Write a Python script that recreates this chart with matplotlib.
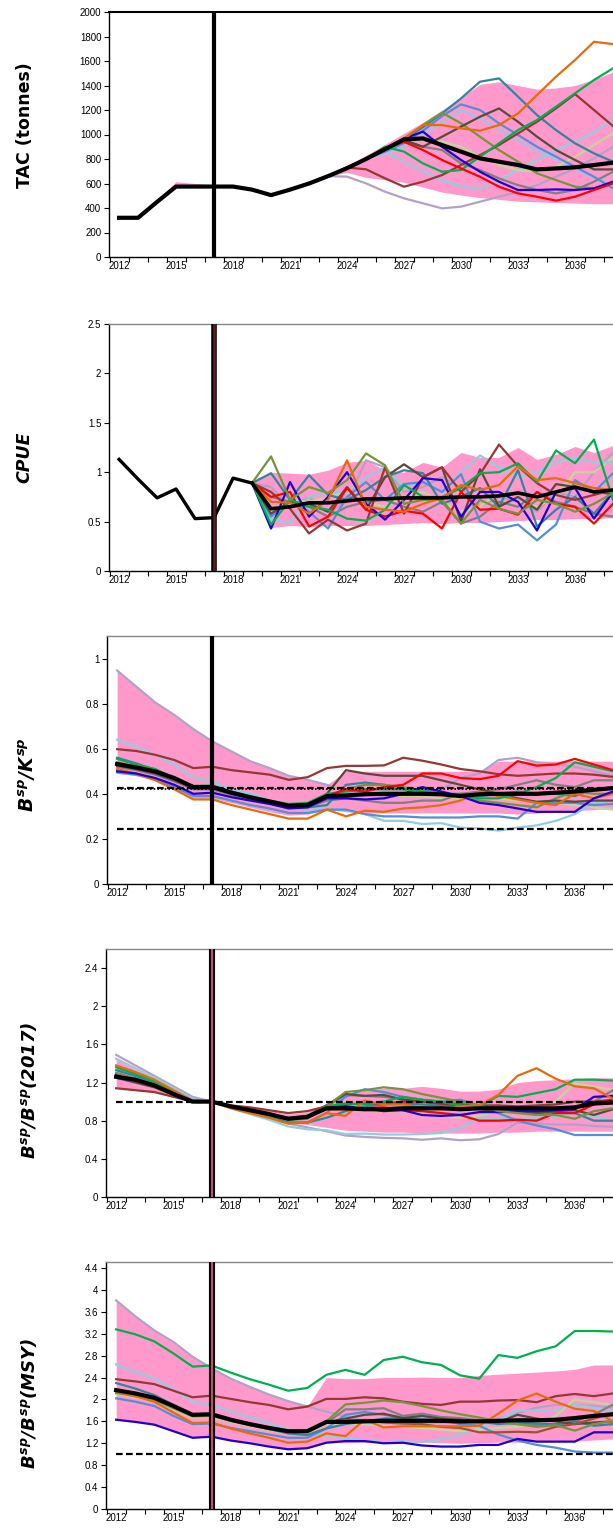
import matplotlib
matplotlib.use('Agg')
import matplotlib.pyplot as plt
import numpy as np

plt.rcParams['font.family'] = ['Liberation Sans', 'DejaVu Sans']
plt.rcParams['mathtext.fontset'] = 'custom'
plt.rcParams['mathtext.rm'] = 'DejaVu Sans:italic:bold'
plt.rcParams['mathtext.it'] = 'DejaVu Sans:italic:bold'
plt.rcParams['mathtext.bf'] = 'DejaVu Sans:italic:bold'

# ---------------- data ----------------
years_all = list(range(2012, 2039))
years_tac_proj = list(range(2023, 2039))
years_cpue_hist = list(range(2012, 2020))
years_cpue_proj = list(range(2019, 2039))
tick_years = [2012, 2015, 2018, 2021, 2024, 2027, 2030, 2033, 2036]

# colours of scenario lines
c_red = '#FF0000'; c_blue = '#2000CC'; c_green = '#00B050'; c_orange = '#E46C0A'
c_teal = '#31859C'; c_sky = '#93CDDD'; c_corn = '#558ED5'; c_maroon = '#953735'
c_dbrown = '#5A4A3A'; c_olive = '#77933C'; c_khaki = '#C3D69B'; c_lav = '#B3A2C7'
c_gray = '#808080'; c_lblue = '#9DC3E6'; c_band = '#FF99CC'

# TAC (tonnes)
tac_black = [320, 320, 450, 575, 575, 575, 575, 550, 505, 550, 600, 660, 725, 800, 880, 960,
             968, 914, 860, 805, 778, 751, 715, 723, 732, 751, 770]
tac_band_lo = [320, 320, 450, 575, 575, 575, 575, 550, 505, 550, 600, 660, 690, 650, 630, 610,
               570, 530, 505, 485, 470, 455, 450, 445, 440, 435, 435]
tac_band_hi = [340, 340, 470, 615, 600, 590, 580, 550, 505, 550, 600, 660, 740, 830, 920, 1010,
               1100, 1200, 1300, 1410, 1430, 1400, 1370, 1380, 1400, 1450, 1510]
tac_orange = [660, 730, 800, 880, 965, 1077, 1077, 1050, 1031, 1077, 1172, 1322, 1472, 1608, 1757, 1738]
tac_teal = [660, 730, 800, 880, 960, 1060, 1172, 1295, 1431, 1458, 1309, 1159, 1036, 928, 846, 778]
tac_corn = [660, 730, 800, 860, 930, 1030, 1150, 1246, 1200, 1091, 996, 900, 819, 737, 655, 560]
tac_lblue = [660, 730, 800, 850, 900, 1000, 1100, 1200, 1130, 1040, 950, 870, 800, 720, 650, 590]
tac_sky = [660, 720, 800, 860, 780, 700, 628, 574, 560, 628, 710, 792, 873, 941, 1023, 1118]
tac_dbrown = [660, 730, 800, 880, 955, 900, 982, 1064, 1145, 1213, 1104, 982, 873, 792, 715, 715]
tac_maroon = [660, 730, 716, 642, 574, 615, 669, 751, 832, 914, 1009, 1104, 1213, 1330, 1200, 1069]
tac_green = [660, 730, 800, 900, 860, 764, 696, 710, 819, 928, 1036, 1118, 1227, 1336, 1445, 1540]
tac_olive = [660, 730, 800, 880, 968, 1077, 1178, 1091, 982, 873, 778, 683, 628, 574, 560, 601]
tac_blue = [660, 730, 800, 880, 968, 1023, 900, 792, 696, 615, 547, 547, 552, 547, 560, 615]
tac_red = [660, 730, 800, 880, 941, 873, 792, 723, 655, 574, 519, 492, 460, 492, 547, 601]
tac_lav = [660, 656, 601, 533, 479, 438, 397, 411, 451, 492, 533, 587, 656, 723, 805, 900]
tac_khaki = [660, 730, 800, 880, 955, 955, 941, 900, 819, 751, 710, 696, 737, 819, 914, 1009]
tac_gray = [660, 730, 800, 880, 940, 900, 873, 764, 710, 642, 587, 547, 519, 547, 615, 696]

# CPUE
cpue_hist = [1.13, 0.93, 0.74, 0.83, 0.53, 0.54, 0.94, 0.89]
cpue_black = [0.89, 0.63, 0.65, 0.69, 0.69, 0.71, 0.73, 0.73, 0.74, 0.74, 0.74, 0.75, 0.75,
              0.76, 0.79, 0.75, 0.80, 0.85, 0.80, 0.82]
cpue_band_lo = [0.89, 0.44, 0.46, 0.45, 0.46, 0.46, 0.46, 0.47, 0.48, 0.49, 0.48, 0.49, 0.49,
                0.50, 0.51, 0.52, 0.52, 0.53, 0.53, 0.54]
cpue_band_hi = [0.89, 1.00, 0.99, 0.98, 1.02, 1.10, 1.12, 1.02, 1.00, 1.10, 1.05, 1.20, 1.15,
                1.15, 1.25, 1.13, 1.18, 1.26, 1.20, 1.27]
cpue_green = [0.89, 0.47, 0.72, 0.65, 0.62, 0.53, 0.51, 0.62, 0.87, 0.75, 0.75, 0.84, 0.99, 1.00,
              1.09, 0.90, 1.22, 1.09, 1.33, 0.72]
cpue_olive = [0.89, 1.16, 0.72, 0.85, 0.79, 0.92, 1.19, 1.07, 0.68, 0.72, 0.72, 0.48, 0.72, 0.63,
              0.58, 0.72, 0.68, 0.60, 0.68, 0.79]
cpue_blue = [0.89, 0.43, 0.90, 0.55, 0.75, 1.00, 0.68, 0.52, 0.72, 0.94, 0.92, 0.55, 0.80, 0.80,
             0.70, 0.41, 0.80, 0.84, 0.53, 0.80]
cpue_red = [0.89, 0.75, 0.80, 0.45, 0.55, 0.84, 0.62, 0.55, 0.61, 0.58, 0.43, 0.80, 0.62, 0.63,
            0.57, 0.80, 0.68, 0.65, 0.48, 0.68]
cpue_maroon = [0.89, 0.80, 0.63, 0.38, 0.52, 0.41, 0.48, 1.05, 0.58, 0.95, 1.05, 0.80, 0.98, 1.28,
               1.06, 0.89, 0.77, 0.72, 0.77, 0.82]
cpue_orange = [0.89, 0.70, 0.69, 0.58, 0.72, 1.12, 0.65, 0.62, 0.60, 0.68, 0.74, 0.87, 0.82, 0.87,
               1.06, 0.92, 0.94, 0.89, 0.84, 0.82]
cpue_teal = [0.89, 0.99, 0.72, 0.97, 0.77, 0.72, 0.82, 0.95, 1.02, 0.99, 0.68, 0.75, 0.84, 0.65,
             1.02, 0.45, 0.62, 0.75, 0.58, 0.80]
cpue_corn = [0.89, 0.55, 0.72, 0.60, 0.43, 0.75, 0.90, 0.72, 0.88, 0.90, 0.80, 0.98, 0.50, 0.43,
             0.47, 0.31, 0.47, 0.92, 0.80, 0.99]
cpue_sky = [0.89, 0.52, 0.49, 0.75, 0.80, 0.80, 0.95, 1.05, 0.85, 0.90, 0.80, 1.00, 1.17, 1.05,
            0.95, 1.00, 1.10, 1.15, 1.10, 1.10]
cpue_lav = [0.89, 0.85, 0.65, 0.75, 0.60, 0.70, 1.12, 1.05, 0.80, 0.85, 0.95, 0.85, 0.65, 0.75,
            0.70, 0.60, 0.80, 0.75, 1.00, 1.20]
cpue_khaki = [0.89, 0.60, 0.72, 0.70, 0.75, 0.80, 0.70, 0.65, 0.75, 0.80, 0.70, 0.60, 0.65, 0.80,
              0.70, 0.65, 0.75, 1.00, 1.00, 1.15]
cpue_dbrown = [0.89, 0.58, 0.70, 0.68, 0.60, 0.85, 0.62, 0.95, 1.08, 0.95, 1.05, 0.50, 1.03, 0.65,
               0.75, 0.62, 0.88, 0.85, 0.80, 0.78]
cpue_gray = [0.89, 0.75, 0.70, 0.65, 0.55, 0.65, 0.70, 0.72, 0.65, 0.60, 0.70, 0.48, 0.55, 0.70,
             0.65, 0.80, 0.70, 0.65, 0.58, 0.55]

# B/K
bk_ref_hi = 0.425
bk_ref_lo = 0.245
bk_band_lo = [0.49, 0.48, 0.46, 0.42, 0.38, 0.38, 0.36, 0.34, 0.32, 0.305, 0.31, 0.33, 0.32, 0.315,
              0.315, 0.315, 0.315, 0.315, 0.315, 0.315, 0.315, 0.31, 0.315, 0.32, 0.325, 0.33, 0.335]
bk_band_hi = [0.945, 0.875, 0.805, 0.75, 0.69, 0.63, 0.59, 0.545, 0.515, 0.48, 0.46, 0.44, 0.50, 0.50,
              0.50, 0.50, 0.50, 0.50, 0.50, 0.50, 0.545, 0.545, 0.545, 0.545, 0.545, 0.545, 0.545]
bk_black = [0.532, 0.517, 0.499, 0.47, 0.43, 0.43, 0.405, 0.384, 0.366, 0.347, 0.351, 0.39,
            0.393, 0.398, 0.40, 0.40, 0.40, 0.398, 0.39, 0.398, 0.40, 0.40, 0.40, 0.405, 0.41, 0.418, 0.425]
bk_lav = [0.947, 0.876, 0.805, 0.75, 0.687, 0.632, 0.588, 0.544, 0.514, 0.48, 0.462, 0.44,
          0.41, 0.40, 0.39, 0.39, 0.40, 0.42, 0.47, 0.49, 0.55, 0.56, 0.54, 0.53, 0.52, 0.50, 0.48]
bk_sky = [0.64, 0.61, 0.573, 0.53, 0.474, 0.455, 0.42, 0.40, 0.37, 0.34, 0.33, 0.33,
          0.33, 0.31, 0.28, 0.28, 0.266, 0.27, 0.25, 0.246, 0.237, 0.25, 0.26, 0.28, 0.31, 0.36, 0.37]
bk_maroon = [0.598, 0.59, 0.573, 0.55, 0.514, 0.52, 0.505, 0.495, 0.485, 0.462, 0.474, 0.514,
             0.524, 0.524, 0.526, 0.56, 0.547, 0.53, 0.51, 0.50, 0.487, 0.48, 0.485, 0.49, 0.49, 0.485, 0.475]
bk_green = [0.555, 0.53, 0.51, 0.47, 0.435, 0.437, 0.41, 0.39, 0.37, 0.355, 0.36, 0.40,
            0.41, 0.42, 0.42, 0.42, 0.41, 0.40, 0.39, 0.38, 0.38, 0.40, 0.43, 0.47, 0.54, 0.52, 0.50]
bk_red = [0.535, 0.52, 0.50, 0.47, 0.43, 0.43, 0.405, 0.385, 0.367, 0.348, 0.352, 0.39,
          0.42, 0.41, 0.43, 0.44, 0.49, 0.49, 0.47, 0.465, 0.48, 0.545, 0.525, 0.53, 0.555, 0.53, 0.505]
bk_blue = [0.50, 0.49, 0.47, 0.44, 0.40, 0.405, 0.385, 0.37, 0.355, 0.335, 0.34, 0.38,
           0.38, 0.375, 0.38, 0.40, 0.43, 0.41, 0.39, 0.36, 0.35, 0.335, 0.32, 0.32, 0.32, 0.38, 0.41]
bk_orange = [0.51, 0.49, 0.46, 0.42, 0.375, 0.375, 0.35, 0.33, 0.31, 0.29, 0.29, 0.33,
             0.30, 0.325, 0.32, 0.335, 0.34, 0.35, 0.37, 0.41, 0.39, 0.375, 0.36, 0.35, 0.40, 0.38, 0.40]
bk_corn = [0.495, 0.485, 0.465, 0.43, 0.39, 0.39, 0.37, 0.35, 0.335, 0.315, 0.315, 0.33,
           0.33, 0.31, 0.30, 0.30, 0.295, 0.295, 0.295, 0.30, 0.30, 0.29, 0.36, 0.36, 0.36, 0.35, 0.355]
bk_teal = [0.56, 0.535, 0.505, 0.465, 0.425, 0.425, 0.40, 0.38, 0.36, 0.34, 0.34, 0.35,
           0.44, 0.45, 0.44, 0.42, 0.42, 0.40, 0.40, 0.39, 0.40, 0.41, 0.40, 0.40, 0.39, 0.42, 0.43]
bk_dbrown = [0.525, 0.51, 0.49, 0.46, 0.425, 0.425, 0.40, 0.38, 0.36, 0.342, 0.345, 0.40,
             0.505, 0.49, 0.48, 0.48, 0.48, 0.46, 0.44, 0.42, 0.40, 0.38, 0.365, 0.37, 0.365, 0.37, 0.37]
bk_olive = [0.54, 0.52, 0.50, 0.465, 0.428, 0.43, 0.405, 0.385, 0.365, 0.35, 0.355, 0.39,
            0.42, 0.44, 0.44, 0.43, 0.41, 0.40, 0.39, 0.37, 0.36, 0.35, 0.34, 0.38, 0.41, 0.40, 0.40]
bk_gray = [0.52, 0.505, 0.485, 0.455, 0.42, 0.42, 0.395, 0.375, 0.357, 0.34, 0.343, 0.37,
           0.38, 0.37, 0.36, 0.36, 0.37, 0.37, 0.40, 0.41, 0.42, 0.44, 0.46, 0.44, 0.43, 0.46, 0.46]
bk_khaki = [0.53, 0.51, 0.495, 0.46, 0.425, 0.425, 0.40, 0.38, 0.36, 0.345, 0.35, 0.38,
            0.40, 0.40, 0.40, 0.39, 0.39, 0.38, 0.38, 0.38, 0.38, 0.37, 0.37, 0.36, 0.35, 0.34, 0.33]

# B / B(2017)
b17_ref = 1.0
b17_band_lo = [1.15, 1.13, 1.10, 1.05, 1.0, 1.0, 0.93, 0.88, 0.83, 0.78, 0.76, 0.73, 0.70, 0.69,
               0.68, 0.68, 0.67, 0.67, 0.67, 0.67, 0.68, 0.68, 0.69, 0.69, 0.69, 0.69, 0.69]
b17_band_hi = [1.45, 1.34, 1.25, 1.14, 1.03, 1.0, 0.97, 0.94, 0.91, 0.87, 0.89, 0.98, 1.08, 1.12,
               1.14, 1.14, 1.16, 1.14, 1.11, 1.11, 1.13, 1.20, 1.22, 1.23, 1.24, 1.25, 1.25]
b17_black = [1.26, 1.23, 1.17, 1.08, 1.0, 1.0, 0.95, 0.91, 0.87, 0.82, 0.84, 0.93,
             0.93, 0.92, 0.92, 0.93, 0.93, 0.93, 0.92, 0.93, 0.93, 0.93, 0.93, 0.93, 0.94, 0.98, 0.99]
b17_lav = [1.49, 1.38, 1.27, 1.16, 1.05, 1.0, 0.94, 0.89, 0.83, 0.77, 0.73, 0.69,
           0.645, 0.63, 0.62, 0.615, 0.60, 0.615, 0.595, 0.605, 0.66, 0.78, 0.77, 0.76, 0.76, 0.745, 0.735]
b17_sky = [1.45, 1.35, 1.25, 1.14, 1.03, 1.0, 0.93, 0.87, 0.81, 0.74, 0.71, 0.70,
           0.66, 0.665, 0.655, 0.655, 0.66, 0.67, 0.72, 0.83, 0.83, 0.82, 0.83, 0.85, 0.88, 0.85, 0.80]
b17_orange = [1.38, 1.31, 1.23, 1.12, 1.01, 1.0, 0.93, 0.88, 0.83, 0.77, 0.78, 0.88,
              0.85, 1.01, 0.97, 0.97, 0.94, 0.92, 0.95, 0.96, 1.07, 1.27, 1.35, 1.24, 1.16, 1.14, 1.03]
b17_green = [1.36, 1.29, 1.21, 1.10, 1.01, 1.0, 0.95, 0.91, 0.87, 0.81, 0.82, 0.95,
             0.98, 0.97, 1.0, 1.05, 1.02, 1.0, 0.96, 0.95, 1.06, 1.05, 1.09, 1.13, 1.23, 1.23, 1.22]
b17_teal = [1.33, 1.27, 1.20, 1.10, 1.01, 1.0, 0.94, 0.90, 0.85, 0.78, 0.78, 0.83,
            0.90, 0.95, 0.97, 0.98, 0.97, 0.96, 0.95, 0.93, 0.92, 0.90, 0.89, 0.88, 0.88, 0.80, 0.80]
b17_maroon = [1.14, 1.12, 1.10, 1.05, 1.0, 1.0, 0.96, 0.94, 0.91, 0.88, 0.90, 0.95,
              0.97, 0.98, 0.98, 1.0, 1.0, 0.98, 0.97, 0.96, 0.96, 0.95, 0.96, 0.97, 1.0, 1.0, 1.02]
b17_olive = [1.30, 1.24, 1.18, 1.09, 1.0, 1.0, 0.95, 0.91, 0.87, 0.82, 0.84, 0.95,
             1.10, 1.12, 1.15, 1.13, 1.08, 1.04, 1.0, 0.96, 0.90, 0.88, 0.86, 0.86, 0.82, 0.90, 0.93]
b17_corn = [1.30, 1.24, 1.18, 1.09, 1.0, 1.0, 0.94, 0.89, 0.84, 0.78, 0.78, 0.88,
            1.05, 1.13, 1.10, 1.05, 1.02, 1.0, 1.02, 0.96, 0.88, 0.80, 0.75, 0.71, 0.65, 0.65, 0.65]
b17_blue = [1.28, 1.23, 1.17, 1.08, 1.0, 1.0, 0.95, 0.91, 0.87, 0.82, 0.84, 0.93,
            0.95, 0.93, 0.90, 0.91, 0.86, 0.85, 0.86, 0.89, 0.89, 0.90, 0.90, 0.91, 0.92, 1.05, 1.06]
b17_red = [1.27, 1.22, 1.16, 1.08, 1.0, 1.0, 0.95, 0.91, 0.87, 0.82, 0.84, 0.92,
           0.92, 0.93, 0.94, 0.91, 0.90, 0.88, 0.86, 0.80, 0.80, 0.81, 0.80, 0.88, 0.88, 0.97, 1.02]
b17_khaki = [1.26, 1.21, 1.15, 1.07, 1.0, 1.0, 0.95, 0.91, 0.87, 0.82, 0.84, 0.92,
             0.92, 0.92, 0.91, 0.90, 0.88, 0.85, 0.83, 0.85, 0.90, 0.90, 0.92, 1.0, 1.19, 1.16, 1.12]
b17_dbrown = [1.25, 1.20, 1.15, 1.07, 1.0, 1.0, 0.95, 0.91, 0.87, 0.83, 0.85, 0.96,
              1.08, 1.06, 1.07, 1.02, 1.0, 0.98, 0.96, 0.92, 0.90, 0.90, 0.88, 0.90, 0.91, 0.86, 0.92]
b17_gray = [1.27, 1.22, 1.16, 1.08, 1.0, 1.0, 0.95, 0.91, 0.87, 0.82, 0.84, 0.95,
            1.07, 1.06, 1.05, 1.03, 1.0, 0.99, 0.98, 0.95, 0.93, 0.90, 0.88, 0.90, 0.93, 1.00, 1.12]

# B / B(MSY)
bm_ref = 1.0
bm_band_lo = [1.63, 1.59, 1.54, 1.42, 1.30, 1.32, 1.25, 1.20, 1.14, 1.09, 1.11, 1.21, 1.21, 1.22,
              1.22, 1.22, 1.22, 1.21, 1.20, 1.21, 1.22, 1.22, 1.23, 1.23, 1.24, 1.26, 1.28]
bm_band_hi = [3.80, 3.52, 3.26, 3.03, 2.78, 2.57, 2.38, 2.23, 2.09, 1.97, 1.87, 2.40, 2.38, 2.38,
              2.40, 2.40, 2.41, 2.40, 2.40, 2.44, 2.46, 2.48, 2.50, 2.52, 2.55, 2.63, 2.63]
bm_black = [2.17, 2.11, 2.03, 1.88, 1.72, 1.73, 1.63, 1.55, 1.48, 1.42, 1.42, 1.59,
            1.59, 1.60, 1.61, 1.61, 1.61, 1.61, 1.60, 1.60, 1.61, 1.62, 1.62, 1.63, 1.66, 1.70, 1.73]
bm_green = [3.28, 3.19, 3.06, 2.84, 2.60, 2.62, 2.49, 2.37, 2.27, 2.16, 2.21, 2.45,
            2.54, 2.45, 2.72, 2.78, 2.68, 2.63, 2.44, 2.38, 2.81, 2.76, 2.88, 2.97, 3.25, 3.25, 3.24]
bm_lav = [3.81, 3.52, 3.26, 3.05, 2.78, 2.57, 2.38, 2.23, 2.09, 1.97, 1.87, 1.78,
          1.69, 1.62, 1.58, 1.57, 1.58, 1.57, 1.58, 1.60, 1.65, 1.75, 1.85, 1.90, 1.90, 1.88, 1.85]
bm_sky = [2.64, 2.50, 2.38, 2.18, 1.96, 1.90, 1.79, 1.68, 1.57, 1.45, 1.38, 1.33,
          1.29, 1.26, 1.22, 1.24, 1.22, 1.28, 1.35, 1.48, 1.62, 1.80, 1.79, 1.80, 1.90, 1.85, 1.80]
bm_maroon = [2.37, 2.33, 2.28, 2.16, 2.04, 2.07, 2.01, 1.95, 1.90, 1.82, 1.87, 2.01,
             2.01, 2.04, 2.02, 1.96, 1.92, 1.90, 1.96, 1.96, 1.98, 1.99, 1.95, 2.06, 2.10, 2.06, 2.11]
bm_blue = [1.63, 1.59, 1.54, 1.42, 1.30, 1.32, 1.25, 1.20, 1.14, 1.09, 1.11, 1.21,
           1.24, 1.24, 1.20, 1.21, 1.16, 1.14, 1.14, 1.17, 1.17, 1.28, 1.23, 1.23, 1.23, 1.40, 1.40]
bm_orange = [2.14, 2.06, 1.96, 1.76, 1.57, 1.58, 1.47, 1.38, 1.30, 1.21, 1.23, 1.38,
             1.33, 1.63, 1.49, 1.51, 1.51, 1.51, 1.51, 1.52, 1.74, 1.98, 2.11, 1.96, 1.83, 1.79, 1.60]
bm_teal = [2.30, 2.20, 2.08, 1.90, 1.71, 1.72, 1.62, 1.54, 1.46, 1.38, 1.35, 1.47,
           1.55, 1.60, 1.65, 1.66, 1.63, 1.60, 1.58, 1.60, 1.55, 1.58, 1.56, 1.55, 1.60, 1.52, 1.55]
bm_corn = [2.02, 1.96, 1.88, 1.70, 1.55, 1.56, 1.48, 1.42, 1.36, 1.30, 1.30, 1.47,
           1.72, 1.77, 1.72, 1.67, 1.64, 1.63, 1.55, 1.52, 1.36, 1.25, 1.17, 1.12, 1.05, 1.03, 1.03]
bm_olive = [2.12, 2.06, 1.99, 1.84, 1.69, 1.70, 1.61, 1.53, 1.46, 1.40, 1.44, 1.60,
            1.91, 1.94, 1.98, 1.95, 1.88, 1.80, 1.73, 1.67, 1.60, 1.55, 1.50, 1.53, 1.43, 1.55, 1.61]
bm_khaki = [2.10, 2.04, 1.97, 1.82, 1.67, 1.68, 1.59, 1.51, 1.44, 1.38, 1.40, 1.55,
            1.55, 1.55, 1.52, 1.50, 1.48, 1.45, 1.42, 1.45, 1.48, 1.50, 1.56, 1.70, 2.00, 1.95, 1.90]
bm_dbrown = [2.15, 2.09, 2.01, 1.86, 1.71, 1.72, 1.62, 1.54, 1.47, 1.41, 1.42, 1.58,
             1.65, 1.72, 1.74, 1.66, 1.70, 1.65, 1.63, 1.60, 1.58, 1.72, 1.65, 1.60, 1.55, 1.58, 1.60]
bm_gray = [2.13, 2.07, 2.00, 1.85, 1.70, 1.71, 1.61, 1.53, 1.46, 1.40, 1.41, 1.57,
           1.82, 1.82, 1.84, 1.70, 1.74, 1.68, 1.66, 1.62, 1.58, 1.55, 1.53, 1.52, 1.60, 1.72, 1.91]
bm_red = [2.16, 2.10, 2.02, 1.87, 1.71, 1.72, 1.62, 1.54, 1.47, 1.41, 1.42, 1.58,
          1.62, 1.62, 1.58, 1.56, 1.55, 1.50, 1.48, 1.40, 1.40, 1.41, 1.40, 1.50, 1.55, 1.65, 1.75]

# ---------------- figure ----------------
W, H = 613, 1530
fig = plt.figure(figsize=(W / 100, H / 100), dpi=100)


def make_ax(left_px, top_px, bottom_px):
    return fig.add_axes([left_px / W, 1 - bottom_px / H, (W - left_px) / W, (bottom_px - top_px) / H])


def style_ax(ax, ylim, yticks, ylabels, top_color='#888888', top_lw=1.0):
    ax.set_xlim(2011.47, 2038.0)
    ax.set_ylim(*ylim)
    ax.set_xticks([y + 0.5 for y in range(2011, 2038)])
    ax.set_xticklabels([])
    ax.set_xticks(tick_years, minor=True)
    ax.set_xticklabels([str(y) for y in tick_years], minor=True, fontsize=7)
    ax.tick_params(axis='x', which='major', direction='out', length=3.5, width=0.8)
    ax.tick_params(axis='x', which='minor', length=0, pad=3)
    ax.set_yticks(yticks)
    ax.set_yticklabels(ylabels, fontsize=7)
    ax.tick_params(axis='y', direction='out', length=3.5, width=0.8, pad=2)
    ax.spines['right'].set_visible(False)
    ax.spines['top'].set_color(top_color)
    ax.spines['top'].set_linewidth(top_lw)
    for s in ('left', 'bottom'):
        ax.spines[s].set_color('black')
        ax.spines[s].set_linewidth(1.0)


def vline(ax, inner=None, outer_lw=3.0, inner_lw=1.2):
    ax.axvline(2017, color='black', lw=outer_lw, zorder=6)
    if inner:
        ax.axvline(2017, color=inner, lw=inner_lw, zorder=7)


# ---- panel 1: TAC
ax1 = make_ax(109, 12, 257)
ax1.fill_between(years_all, tac_band_lo, tac_band_hi, color=c_band, lw=0, zorder=1)
for vals, col in [(tac_lav, c_lav), (tac_sky, c_sky), (tac_lblue, c_lblue), (tac_khaki, c_khaki),
                  (tac_gray, c_gray), (tac_corn, c_corn), (tac_teal, c_teal), (tac_olive, c_olive),
                  (tac_dbrown, c_dbrown), (tac_maroon, c_maroon), (tac_green, c_green),
                  (tac_blue, c_blue), (tac_red, c_red), (tac_orange, c_orange)]:
    ax1.plot(years_tac_proj, vals, color=col, lw=1.6, zorder=2)
ax1.plot(years_all, tac_black, color='black', lw=3.0, zorder=4)
vline(ax1)
style_ax(ax1, (0, 2000), list(range(0, 2001, 200)), [str(v) for v in range(0, 2001, 200)],
         top_color='black', top_lw=1.5)

# ---- panel 2: CPUE
ax2 = make_ax(109, 324, 571)
ax2.fill_between(years_cpue_proj, cpue_band_lo, cpue_band_hi, color=c_band, lw=0, zorder=1)
for vals, col in [(cpue_lav, c_lav), (cpue_khaki, c_khaki), (cpue_sky, c_sky), (cpue_gray, c_gray),
                  (cpue_corn, c_corn), (cpue_teal, c_teal), (cpue_dbrown, c_dbrown),
                  (cpue_maroon, c_maroon), (cpue_red, c_red), (cpue_blue, c_blue),
                  (cpue_green, c_green), (cpue_olive, c_olive), (cpue_orange, c_orange)]:
    ax2.plot(years_cpue_proj, vals, color=col, lw=1.6, zorder=2)
ax2.plot(years_cpue_hist, cpue_hist, color='black', lw=2.4, zorder=4)
ax2.plot(years_cpue_proj, cpue_black, color='black', lw=2.6, zorder=4)
vline(ax2, inner='#6B1A1A', outer_lw=4.0, inner_lw=1.8)
style_ax(ax2, (0, 2.5), [0, 0.5, 1, 1.5, 2, 2.5], ['0', '0.5', '1', '1.5', '2', '2.5'])

# ---- panel 3: B/K
ax3 = make_ax(107, 636, 884)
ax3.fill_between(years_all, bk_band_lo, bk_band_hi, color=c_band, lw=0, zorder=1)
for vals, col in [(bk_lav, c_lav), (bk_khaki, c_khaki), (bk_sky, c_sky), (bk_gray, c_gray),
                  (bk_corn, c_corn), (bk_teal, c_teal), (bk_olive, c_olive), (bk_dbrown, c_dbrown),
                  (bk_maroon, c_maroon), (bk_orange, c_orange), (bk_blue, c_blue),
                  (bk_green, c_green), (bk_red, c_red)]:
    ax3.plot(years_all, vals, color=col, lw=1.6, zorder=2)
ax3.plot(years_all, bk_black, color='black', lw=3.0, zorder=4)
ax3.plot([2012, 2038], [bk_ref_hi, bk_ref_hi], color='black', lw=1.6, ls=(0, (3, 1.5)), zorder=5)
ax3.plot([2012, 2038], [bk_ref_hi - 0.004, bk_ref_hi - 0.004], color='black', lw=1.2,
         ls=(0, (1, 1.2)), zorder=5)
ax3.plot([2012, 2038], [bk_ref_lo, bk_ref_lo], color='black', lw=1.6, ls=(0, (3, 1.5)), zorder=5)
vline(ax3)
style_ax(ax3, (0, 1.1), [0, 0.2, 0.4, 0.6, 0.8, 1.0], ['0', '0.2', '0.4', '0.6', '0.8', '1'])

# ---- panel 4: B/B(2017)
ax4 = make_ax(106, 949, 1197)
ax4.fill_between(years_all, b17_band_lo, b17_band_hi, color=c_band, lw=0, zorder=1)
for vals, col in [(b17_lav, c_lav), (b17_sky, c_sky), (b17_khaki, c_khaki), (b17_gray, c_gray),
                  (b17_corn, c_corn), (b17_teal, c_teal), (b17_dbrown, c_dbrown),
                  (b17_maroon, c_maroon), (b17_red, c_red), (b17_blue, c_blue),
                  (b17_olive, c_olive), (b17_green, c_green), (b17_orange, c_orange)]:
    ax4.plot(years_all, vals, color=col, lw=1.6, zorder=2)
ax4.plot(years_all, b17_black, color='black', lw=3.0, zorder=4)
ax4.plot([2012, 2038], [b17_ref, b17_ref], color='black', lw=1.6, ls=(0, (3, 1.5)), zorder=3)
vline(ax4, inner='#C05070', outer_lw=4.4, inner_lw=1.6)
style_ax(ax4, (0, 2.6), [0, 0.4, 0.8, 1.2, 1.6, 2.0, 2.4], ['0', '0.4', '0.8', '1.2', '1.6', '2', '2.4'])

# ---- panel 5: B/B(MSY)
ax5 = make_ax(106, 1262, 1509)
ax5.fill_between(years_all, bm_band_lo, bm_band_hi, color=c_band, lw=0, zorder=1)
for vals, col in [(bm_lav, c_lav), (bm_sky, c_sky), (bm_khaki, c_khaki), (bm_gray, c_gray),
                  (bm_corn, c_corn), (bm_teal, c_teal), (bm_dbrown, c_dbrown), (bm_red, '#A0522D'),
                  (bm_maroon, c_maroon), (bm_olive, c_olive), (bm_orange, c_orange),
                  (bm_blue, c_blue), (bm_green, c_green)]:
    ax5.plot(years_all, vals, color=col, lw=1.6, zorder=2)
ax5.plot(years_all, bm_black, color='black', lw=3.0, zorder=4)
ax5.plot([2012, 2038], [bm_ref, bm_ref], color='black', lw=1.6, ls=(0, (3, 1.5)), zorder=3)
vline(ax5, inner='#C05070', outer_lw=4.4, inner_lw=1.6)
bm_ticks = [round(0.4 * i, 1) for i in range(12)]
style_ax(ax5, (0, 4.51), bm_ticks, ['0', '0.4', '0.8', '1.2', '1.6', '2', '2.4', '2.8', '3.2', '3.6', '4', '4.4'])

# ---- y labels
def ylab(txt, x_px, y_px, size=11.5, **kw):
    fig.text(x_px / W, 1 - y_px / H, txt, rotation=90, ha='center', va='center',
             fontsize=size, **kw)

ylab('TAC (tonnes)', 25, 125, size=12.5, family='DejaVu Sans', fontweight='bold')
ylab('CPUE', 24, 457, size=12.5, family='DejaVu Sans', fontweight='bold', style='italic')
ylab(r'$B^{sp}/K^{sp}$', 27, 775, size=13.5)
ylab(r'$B^{sp}/B^{sp}(2017)$', 29, 1090, size=13)
ylab(r'$B^{sp}/B^{sp}(MSY)$', 29, 1403, size=13)

fig.savefig('out.png', dpi=100)
